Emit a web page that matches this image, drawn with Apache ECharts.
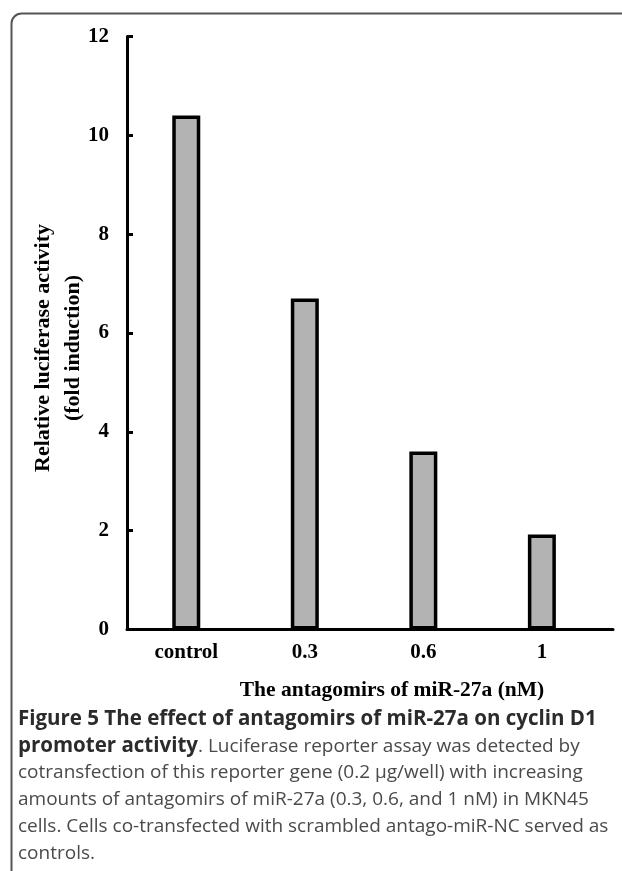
<!DOCTYPE html>
<html><head><meta charset="utf-8">
<script src="https://cdn.jsdelivr.net/npm/echarts@6/dist/echarts.min.js"></script>
<style>html,body{margin:0;padding:0;background:#fff}#c{width:622px;height:871px}</style>
</head><body><div id="c"></div>
<script>
const categories = ['control', '0.3', '0.6', '1'];
const values = [10.4, 6.7, 3.6, 1.92];
const yTicks = [0, 2, 4, 6, 8, 10, 12];
const xTitle = 'The antagomirs of miR-27a (nM)';
const yTitle = ['Relative luciferase activity', '(fold induction)'];
const captionLines = [
  [['b', 'Figure 5 The effect of antagomirs of miR-27a on cyclin D1']],
  [['b', 'promoter activity'], ['r', '. Luciferase reporter assay was detected by']],
  [['r', 'cotransfection of this reporter gene (0.2 \u00b5g/well) with increasing']],
  [['r', 'amounts of antagomirs of miR-27a (0.3, 0.6, and 1 nM) in MKN45']],
  [['r', 'cells. Cells co-transfected with scrambled antago-miR-NC served as']],
  [['r', 'controls.']]
];

const serif = '"Liberation Serif", "Times New Roman", serif';
const sans = '"Open Sans", "Noto Sans", sans-serif';

const chart = echarts.init(document.getElementById('c'), null, {renderer: 'canvas'});

const captionGraphics = captionLines.map((line, i) => ({
  type: 'text',
  left: 18,
  top: 709 + i * 27,
  style: {
    text: line.map(([k, t]) => '{' + k + '|' + t.replace(/[{}|]/g, '') + '}').join(''),
    rich: {
      b: {fontFamily: sans, fontWeight: 'bold', fontSize: 20.5, fill: '#2b2b2b'},
      r: {fontFamily: sans, fontWeight: 'normal', fontSize: 19, fill: '#4a4a4a'}
    }
  }
}));

chart.setOption({
  animation: false,
  backgroundColor: '#fff',
  grid: {left: 127, right: 9, top: 36.5, bottom: 241.5, containLabel: false},
  xAxis: {
    type: 'value',
    min: -0.5,
    max: 3.6,
    interval: 0.5,
    splitLine: {show: false},
    axisTick: {show: false},
    axisLine: {show: true, onZero: false, lineStyle: {color: '#000', width: 3}},
    axisLabel: {
      margin: 13,
      showMaxLabel: false,
      showMinLabel: false,
      fontFamily: serif, fontWeight: 'bold', fontSize: 21, color: '#000',
      formatter: v => (Number.isInteger(v) && categories[v] !== undefined) ? categories[v] : ''
    }
  },
  yAxis: {
    type: 'value',
    min: yTicks[0],
    max: yTicks[yTicks.length - 1],
    interval: 2,
    splitLine: {show: false},
    axisLine: {show: true, onZero: false, lineStyle: {color: '#000', width: 3}},
    axisTick: {show: true, inside: true, length: 6, lineStyle: {color: '#000', width: 3}},
    axisLabel: {margin: 18, fontFamily: serif, fontWeight: 'bold', fontSize: 21, color: '#000'}
  },
  series: [{
    type: 'bar',
    barWidth: 28,
    data: values.map((v, i) => [i, v]),
    itemStyle: {color: '#b3b3b3', borderColor: '#000', borderWidth: 3.5}
  }],
  graphic: [
    {type: 'rect', left: 9, top: 11, z: -1,
     shape: {width: 700, height: 900, r: [10, 0, 0, 0]},
     style: {fill: 'none', stroke: '#555', lineWidth: 2}},
    {type: 'text', x: 392, y: 690,
     style: {text: xTitle, fontFamily: serif, fontWeight: 'bold', fontSize: 21.5, fill: '#000',
             align: 'center', verticalAlign: 'middle'}},
    {type: 'text', x: 58, y: 348, rotation: Math.PI / 2,
     style: {text: yTitle.join('\n'), fontFamily: serif, fontWeight: 'bold', fontSize: 22, lineHeight: 30,
             fill: '#000', align: 'center', verticalAlign: 'middle'}}
  ].concat(captionGraphics)
});
</script></body></html>
